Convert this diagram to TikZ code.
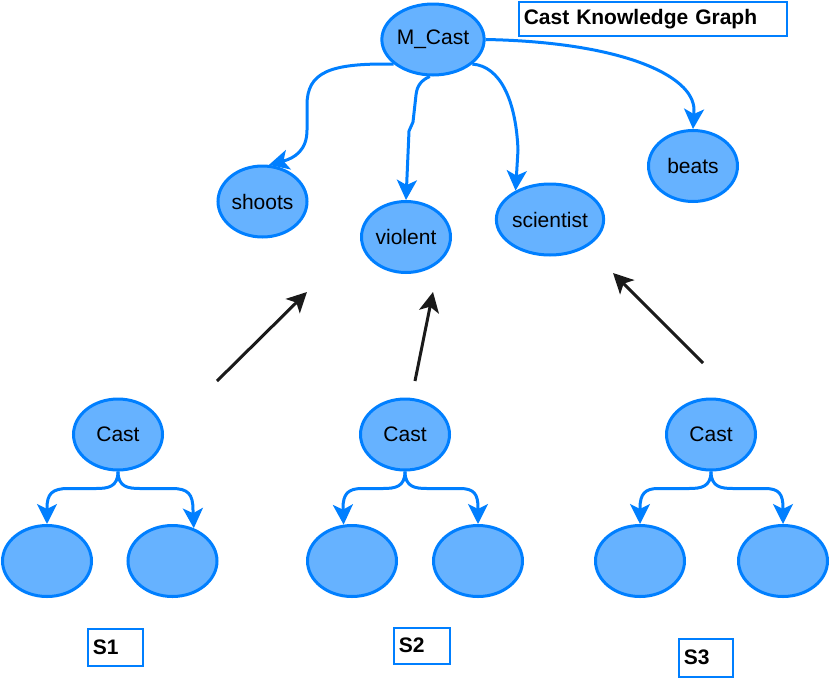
\documentclass[tikz,border=0pt]{standalone}
\usepackage{fontspec}
\setmainfont{Liberation Sans}
\usetikzlibrary{shapes.geometric,arrows.meta,calc}
\definecolor{nodefill}{HTML}{66B2FF}
\definecolor{nodeline}{HTML}{007FFF}
\definecolor{darkarrow}{HTML}{1A1A1A}
\begin{document}
\begin{tikzpicture}[x=1pt,y=-1pt,
  ell/.style={ellipse, draw=nodeline, fill=nodefill, line width=3pt,
    minimum width=89pt, minimum height=71pt, inner sep=0pt,
    font=\fontsize{21}{25}\selectfont},
  bconn/.style={draw=nodeline, line width=3pt, line join=round,
    -{Stealth[length=20pt,width=20pt,inset=5pt]}},
  kconn/.style={draw=darkarrow, line width=3pt,
    -{Stealth[length=20pt,width=20pt,inset=5pt]}},
  lbl/.style={draw=nodeline, line width=1.5pt, fill=white,
    font=\bfseries\fontsize{21}{25}\selectfont, anchor=north west,
    inner ysep=0pt, inner xsep=5pt, align=left}
]
\useasboundingbox (0,0) rectangle (830,678);

% title box
\node[lbl, text width=258pt, minimum height=34pt] (title) at (518,1) {Cast Knowledge Graph};

% knowledge graph nodes
\node[ell] (mcast) at (433,39.5) {M\_Cast};
\node[ell] (shoots) at (262.5,201.5) {shoots};
\node[ell] (violent) at (406,237) {violent};
\node[ell] (sci) at (550,219.5) {scientist};
\node[ell] (beats) at (693,166) {beats};

% knowledge graph connectors
\draw[bconn] (mcast.212) .. controls (330,63) and (307,72) .. (307,105)
  -- (307,130) .. controls (307,150) and (295,158) .. (shoots.80);
\draw[bconn] (mcast.265) .. controls (422,80) and (417,85) .. (416,95)
  -- (413,122) -- (409,131) -- (violent.north);
\draw[bconn] (mcast.-32) .. controls (500,66) and (516,100) .. (518,150)
  -- (sci.140);
\draw[bconn] (mcast.east) .. controls (620,42) and (694,75) .. (694,110)
  -- (beats.north);

% sentence graphs
\node[ell] (c1) at (118,434.5) {Cast};
\node[ell] (c2) at (405,434.5) {Cast};
\node[ell] (c3) at (711,434.5) {Cast};
\node[ell] (l1) at (47,561) {};
\node[ell] (r1) at (172.5,561) {};
\node[ell] (l2) at (352,561) {};
\node[ell] (r2) at (478,561) {};
\node[ell] (l3) at (640,561) {};
\node[ell] (r3) at (783,561) {};

\draw[bconn] (c1.south) .. controls (118,487) and (108,488.5) .. (96,488.5)
  -- (68,488.5) .. controls (52,488.5) and (47,494) .. (47,508) -- (l1.north);
\draw[bconn] (c1.south) .. controls (118,487) and (128,488.5) .. (140,488.5)
  -- (172,488.5) .. controls (188,488.5) and (193,494) .. (193,510) -- (r1.57);
\draw[bconn] (c2.south) .. controls (405,487) and (395,488.5) .. (383,488.5)
  -- (362,488.5) .. controls (348,488.5) and (343,494) .. (343,508) -- (l2.103);
\draw[bconn] (c2.south) .. controls (405,487) and (415,488.5) .. (427,488.5)
  -- (460,488.5) .. controls (474,488.5) and (478,494) .. (478,508) -- (r2.north);
\draw[bconn] (c3.south) .. controls (711,487) and (701,488.5) .. (689,488.5)
  -- (658,488.5) .. controls (645,488.5) and (640,494) .. (640,508) -- (l3.north);
\draw[bconn] (c3.south) .. controls (711,487) and (721,488.5) .. (733,488.5)
  -- (765,488.5) .. controls (779,488.5) and (783,494) .. (783,508) -- (r3.north);

% sentence labels
\node[lbl, text width=45pt, minimum height=37pt] (s1) at (87,628) {S1};
\node[lbl, text width=46pt, minimum height=36pt] (s2) at (393,627) {S2};
\node[lbl, text width=44pt, minimum height=38pt] (s3) at (678,638) {S3};

% black arrows
\coordinate (k1s) at (217,381);
\coordinate (k1e) at (307,292);
\coordinate (k2s) at (415,381);
\coordinate (k2e) at (433,292);
\coordinate (k3s) at (703,363);
\coordinate (k3e) at (613,273);
\draw[kconn] (k1s) -- (k1e);
\draw[kconn] (k2s) -- (k2e);
\draw[kconn] (k3s) -- (k3e);
\end{tikzpicture}
\end{document}
